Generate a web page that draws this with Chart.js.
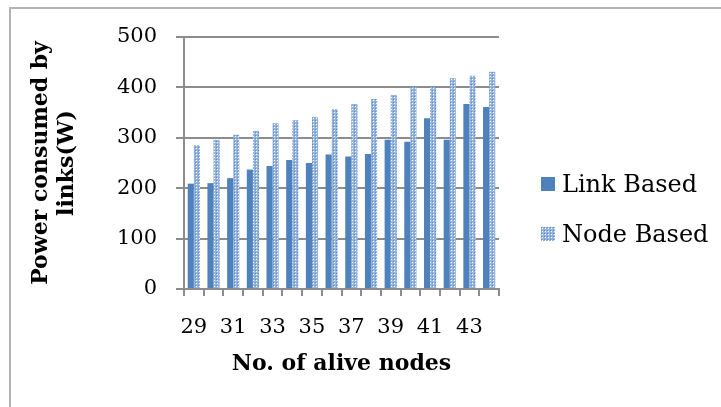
<!DOCTYPE html>
<html>
<head>
<meta charset="utf-8">
<script src="https://cdn.jsdelivr.net/npm/chart.js@4.4.1/dist/chart.umd.min.js"></script>
<style>
  html, body { margin: 0; padding: 0; background: #fff; overflow: hidden; }
  #wrap { position: relative; width: 721px; height: 407px; }
  #frame { position: absolute; left: 9px; top: 7px; width: 800px; height: 500px; border: 2px solid #b3b3b3; box-sizing: border-box; }
  canvas { position: absolute; left: 0; top: 0; }
  .leg { position: absolute; left: 541px; font-family: "DejaVu Serif", serif; font-size: 24px; color: #000; display: flex; align-items: center; white-space: nowrap; }
  .sw { width: 14px; height: 14px; margin-right: 7px; }
</style>
</head>
<body>
<div id="wrap">
  <div id="frame"></div>
  <canvas id="c" width="721" height="407"></canvas>
  <div id="legend"></div>
</div>
<script>
const categories = ['29','30','31','32','33','34','35','36','37','38','39','40','41','42','43','44'];
const linkBased = [209, 210, 220, 237, 244, 256, 250, 267, 263, 268, 296, 292, 339, 296, 367, 361];
const nodeBased = [285, 296, 306, 314, 329, 335, 341, 357, 367, 377, 385, 401, 401, 418, 423, 431];
const seriesNames = ['Link Based', 'Node Based'];
const yTicks = [0, 100, 200, 300, 400, 500];
const yTitle = ['Power consumed by', 'links(W)'];
const xTitle = 'No. of alive nodes';

// pattern for "Node Based"
const pc = document.createElement('canvas');
pc.width = 3; pc.height = 3;
const p = pc.getContext('2d');
p.fillStyle = '#95b4de'; p.fillRect(0, 0, 3, 3);
p.fillStyle = '#ffffff'; p.fillRect(1, 1, 1, 1);
p.fillStyle = '#5f8ac6'; p.fillRect(0, 0, 1, 1);
const ctx = document.getElementById('c').getContext('2d');
const pattern = ctx.createPattern(pc, 'repeat');
const linkColor = '#4f81bd';

const gridColor = '#8c8c8c';
const serif = '"DejaVu Serif", serif';

new Chart(ctx, {
  type: 'bar',
  data: {
    labels: categories,
    datasets: [
      { label: seriesNames[0], data: linkBased, backgroundColor: linkColor, borderWidth: 0 },
      { label: seriesNames[1], data: nodeBased, backgroundColor: pattern, borderWidth: 0 }
    ]
  },
  options: {
    responsive: false,
    animation: false,
    devicePixelRatio: 1,
    layout: { padding: { left: 0, top: 37, right: 222, bottom: 0 } },
    plugins: { legend: { display: false }, tooltip: { enabled: false } },
    datasets: { bar: { categoryPercentage: 0.62, barPercentage: 1 } },
    scales: {
      x: {
        offset: true,
        grid: { display: true, offset: true, drawOnChartArea: false, drawTicks: true, tickLength: 7, color: gridColor, lineWidth: 2 },
        border: { display: true, color: gridColor, width: 2 },
        ticks: {
          autoSkip: false, maxRotation: 0, padding: 19, color: '#000',
          font: { family: serif, size: 21 },
          callback: function(v, i) { return i % 2 === 0 ? categories[i] : ''; }
        },
        title: { display: true, text: xTitle, color: '#000', font: { family: serif, size: 22, weight: 'bold' }, padding: { top: 0, bottom: 30 } },
        afterFit: function(s) { s.height = 407 - 289; }
      },
      y: {
        min: 0, max: 500,
        afterBuildTicks: function(s) { s.ticks = yTicks.map(v => ({ value: v })); },
        grid: { color: gridColor, lineWidth: 2, tickLength: 8, drawTicks: true },
        border: { display: true, color: gridColor, width: 2 },
        ticks: { padding: 19, color: '#000', font: { family: serif, size: 21 } },
        title: { display: true, text: yTitle, color: '#000', font: { family: serif, size: 22, weight: 'bold' }, padding: { top: 28 } },
        afterFit: function(s) { s.width = 184; }
      }
    }
  }
});

// legend built from series names and colours
const leg = document.getElementById('legend');
const legTops = [170, 220];
seriesNames.forEach((name, i) => {
  const d = document.createElement('div');
  d.className = 'leg';
  d.style.top = legTops[i] + 'px';
  const sw = document.createElement('div');
  sw.className = 'sw';
  if (i === 0) sw.style.background = linkColor;
  else { sw.style.backgroundImage = 'url(' + pc.toDataURL() + ')'; sw.style.imageRendering = 'pixelated'; }
  const t = document.createElement('span');
  t.textContent = name;
  d.appendChild(sw); d.appendChild(t);
  leg.appendChild(d);
});
</script>
</body>
</html>
